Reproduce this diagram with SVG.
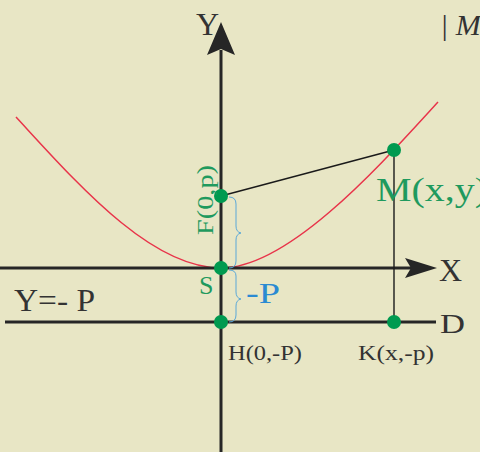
<svg xmlns="http://www.w3.org/2000/svg" width="480" height="452" viewBox="0 0 480 452">
<defs>
<style>
.ax{stroke:#262626;stroke-width:3;fill:none}
.thin{stroke:#1a1a1a;stroke-width:1.4;fill:none}
.dot{fill:#009a50}
.g{fill:#1f9a5e;font-family:"Liberation Serif",serif}
.k{fill:#333;font-family:"Liberation Serif",serif}
.br{stroke:#5aa8d8;stroke-width:1;fill:none}
</style>
</defs>
<rect width="480" height="452" fill="#e8e6c5"/>
<g id="connectors">
<path d="M16,117 C76,182 150,268 221,268 C290,268 383,162 438,102" stroke="#e8344a" stroke-width="1.5" fill="none"/>
<line class="ax" x1="221" y1="50" x2="221" y2="452"/>
<polygon points="221,22 235,55 221,49 207,55" fill="#262626"/>
<line class="ax" x1="0" y1="268" x2="412" y2="268"/>
<polygon points="437,268 405,258 411,268 405,278" fill="#262626"/>
<line class="ax" x1="5" y1="322" x2="436" y2="322"/>
<line class="thin" x1="221" y1="196" x2="394" y2="150"/>
<line class="thin" x1="394" y1="150" x2="394" y2="322"/>
<path class="br" d="M229,197 Q236,197 236,204 L236,226 Q236,232 241,233 Q236,234 236,240 L236,261 Q236,268 229,268"/>
<path class="br" d="M229,270 Q236,270 236,276 L236,292 Q236,298 241,299 Q236,300 236,306 L236,315 Q236,322 229,322"/>
</g>
<g id="F"><circle class="dot" cx="221" cy="196" r="7"/>
<text class="g" font-size="24" textLength="70" lengthAdjust="spacingAndGlyphs" transform="translate(213,235) rotate(-90)">F(0,p)</text></g>
<g id="S"><circle class="dot" cx="221" cy="268" r="7"/>
<text class="g" font-size="26" x="199" y="294">S</text></g>
<g id="H"><circle class="dot" cx="221" cy="322" r="7"/>
<text class="k" font-size="21" x="228" y="360" textLength="74" lengthAdjust="spacingAndGlyphs">H(0,-P)</text></g>
<g id="M"><circle class="dot" cx="394" cy="150" r="7"/>
<text class="g" font-size="33" x="376" y="201" textLength="112" lengthAdjust="spacingAndGlyphs">M(x,y)</text></g>
<g id="K"><circle class="dot" cx="394" cy="322" r="7"/>
<text class="k" font-size="21" x="358" y="360" textLength="76" lengthAdjust="spacingAndGlyphs">K(x,-p)</text></g>
<g id="labels">
<text class="k" font-size="32" x="196" y="35" fill="#262626">Y</text>
<text class="k" font-size="32" x="439" y="281" fill="#262626">X</text>
<text class="k" font-size="28" x="440" y="333" textLength="25" lengthAdjust="spacingAndGlyphs">D</text>
<text class="k" font-size="32" x="14" y="311" textLength="81" lengthAdjust="spacingAndGlyphs">Y=- P</text>
<text font-size="30" x="246" y="303" fill="#2a8ad2" font-family="Liberation Serif,serif" textLength="34" lengthAdjust="spacingAndGlyphs">-P</text>
<text class="k" font-size="30" x="440" y="35" font-style="italic" fill="#222">| M</text>
</g>
</svg>
